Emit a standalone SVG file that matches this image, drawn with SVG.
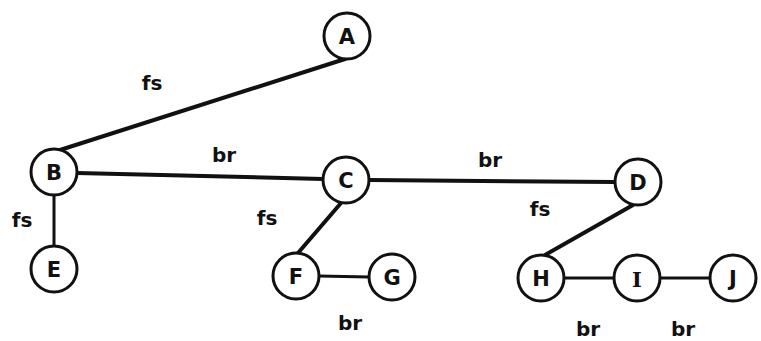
<svg xmlns="http://www.w3.org/2000/svg" width="761" height="341" viewBox="0 0 761 341">
  <style>
    .edge { stroke: #111; stroke-width: 4; stroke-linecap: round; fill: none; }
    .edge.thin { stroke-width: 3; }
    .node circle { fill: #fff; stroke: #111; stroke-width: 3; }
    .node text { font-family: "DejaVu Sans", "Liberation Sans", Arial, sans-serif; font-weight: bold; font-size: 21px; fill: #111; text-anchor: middle; dominant-baseline: central; }
    .lbl { font-family: "DejaVu Sans", "Liberation Sans", Arial, sans-serif; font-weight: bold; font-size: 20px; fill: #111; text-anchor: middle; dominant-baseline: central; }
  </style>
  <rect width="761" height="341" fill="#fff"/>
  <g id="connectors">
    <line class="edge" x1="345" y1="59" x2="60" y2="150"/>
    <line class="edge" x1="77" y1="173" x2="323" y2="179"/>
    <line class="edge" x1="369" y1="180" x2="615" y2="182"/>
    <line class="edge thin" x1="54" y1="195" x2="54" y2="246"/>
    <line class="edge" x1="341" y1="203" x2="298" y2="253"/>
    <line class="edge thin" x1="319" y1="276" x2="369" y2="277"/>
    <line class="edge" x1="633" y1="205" x2="545" y2="255"/>
    <line class="edge thin" x1="564" y1="278" x2="614" y2="278"/>
    <line class="edge thin" x1="660" y1="278" x2="710" y2="278"/>
  </g>
  <g id="labels">
    <text class="lbl" x="152" y="83">fs</text>
    <text class="lbl" x="224" y="155">br</text>
    <text class="lbl" x="490" y="160">br</text>
    <text class="lbl" x="22" y="220">fs</text>
    <text class="lbl" x="267" y="218">fs</text>
    <text class="lbl" x="540" y="209">fs</text>
    <text class="lbl" x="350" y="323">br</text>
    <text class="lbl" x="588" y="329">br</text>
    <text class="lbl" x="683" y="329">br</text>
  </g>
  <g id="node-A" class="node"><circle cx="347" cy="36" r="23"/><text x="347" y="37">A</text></g>
  <g id="node-B" class="node"><circle cx="54" cy="172" r="23"/><text x="54" y="173">B</text></g>
  <g id="node-C" class="node"><circle cx="346" cy="180" r="23"/><text x="346" y="181">C</text></g>
  <g id="node-D" class="node"><circle cx="638" cy="182" r="23"/><text x="638" y="183">D</text></g>
  <g id="node-E" class="node"><circle cx="54" cy="269" r="23"/><text x="54" y="270">E</text></g>
  <g id="node-F" class="node"><circle cx="296" cy="276" r="23"/><text x="296" y="277">F</text></g>
  <g id="node-G" class="node"><circle cx="392" cy="277" r="23"/><text x="392" y="278">G</text></g>
  <g id="node-H" class="node"><circle cx="541" cy="278" r="23"/><text x="541" y="279">H</text></g>
  <g id="node-I" class="node"><circle cx="637" cy="278" r="23"/><text x="637" y="279" style="font-family:'DejaVu Serif','Liberation Serif',serif">I</text></g>
  <g id="node-J" class="node"><circle cx="733" cy="278" r="23"/><text x="733" y="279">J</text></g>
</svg>
